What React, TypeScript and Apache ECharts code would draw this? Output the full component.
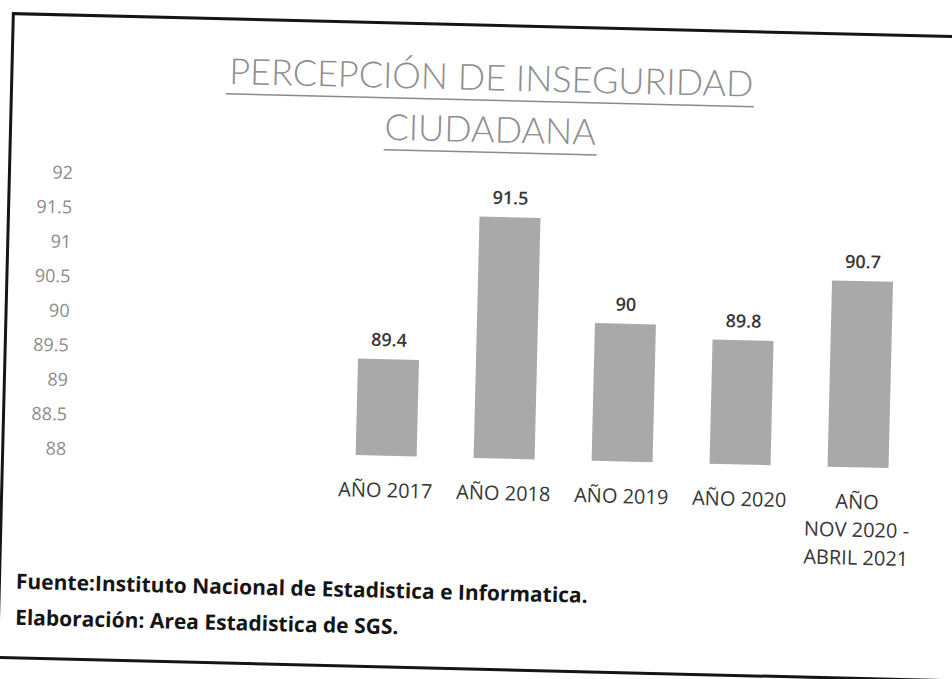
import React, { useEffect, useRef } from "react";
import * as echarts from "echarts";

const categories = ["AÑO 2017", "AÑO 2018", "AÑO 2019", "AÑO 2020", "AÑO\nNOV 2020 -\nABRIL 2021"];
const values = [89.4, 91.5, 90, 89.8, 90.7];
const yMin = 88;
const yMax = 92;
const yStep = 0.5;
const titleLines = ["PERCEPCIÓN DE INSEGURIDAD", "CIUDADANA"];
const footerLines = [
  "Fuente:Instituto Nacional de Estadistica e Informatica.",
  "Elaboración: Area Estadistica de SGS.",
];

export default function App() {
  const ref = useRef<HTMLDivElement>(null);
  useEffect(() => {
    if (!ref.current) return;
    const chart = echarts.init(ref.current, null, { renderer: "svg" });
    chart.setOption({
      animation: false,
      backgroundColor: "#ffffff",
      title: {
        text: titleLines.join("\n"),
        left: 485,
        top: 50,
        padding: 0,
        textAlign: "center",
        textStyle: {
          fontFamily: "Lato",
          fontWeight: 300,
          fontSize: 36,
          lineHeight: 52,
          color: "#8e8e8e",
        },
      },
      grid: { left: 330, right: 32, top: 182, bottom: 679 - 458 },
      xAxis: {
        type: "category",
        data: categories,
        axisLine: { show: false },
        axisTick: { show: false },
        axisLabel: {
          interval: 0,
          margin: 20,
          fontFamily: "Open Sans",
          fontSize: 20,
          lineHeight: 28,
          color: "#363636",
        },
      },
      yAxis: {
        type: "value",
        min: yMin,
        max: yMax,
        interval: yStep,
        axisLine: { show: false },
        axisTick: { show: false },
        splitLine: { show: false },
        axisLabel: {
          margin: 261,
          fontFamily: "Open Sans",
          fontSize: 18,
          color: "#8c8c8c",
        },
      },
      series: [
        {
          type: "bar",
          data: values,
          barWidth: 61,
          itemStyle: { color: "#a9a9a9" },
          label: {
            show: true,
            position: "top",
            distance: 11,
            fontFamily: "Open Sans",
            fontWeight: 600,
            fontSize: 18,
            color: "#363636",
          },
        },
      ],
      graphic: [
        {
          type: "rect",
          shape: { x: 5.5, y: 25, width: 952, height: 644 },
          style: { fill: "none", stroke: "#151515", lineWidth: 3 },
          silent: true,
        },
        {
          type: "line",
          shape: { x1: 220, y1: 100, x2: 748, y2: 100 },
          style: { stroke: "#8a8a8a", lineWidth: 1.5 },
          silent: true,
        },
        {
          type: "line",
          shape: { x1: 379, y1: 152, x2: 592, y2: 152 },
          style: { stroke: "#8a8a8a", lineWidth: 1.5 },
          silent: true,
        },
        {
          type: "text",
          x: 22,
          y: 592,
          style: {
            text: footerLines[0],
            fontFamily: "Open Sans",
            fontWeight: 700,
            fontSize: 21,
            fill: "#151515",
            textVerticalAlign: "middle",
          },
        },
        {
          type: "text",
          x: 22,
          y: 628,
          style: {
            text: footerLines[1],
            fontFamily: "Open Sans",
            fontWeight: 700,
            fontSize: 21,
            fill: "#151515",
            textVerticalAlign: "middle",
          },
        },
      ],
    });
    return () => chart.dispose();
  }, []);
  return (
    <div
      style={{
        position: "fixed",
        left: 0,
        top: 0,
        width: 952,
        height: 679,
        overflow: "hidden",
        background: "#ffffff",
      }}
    >
      <div
        ref={ref}
        style={{
          width: 952,
          height: 679,
          transform: "rotate(1.4deg)",
          transformOrigin: "476px 340px",
        }}
      />
    </div>
  );
}
